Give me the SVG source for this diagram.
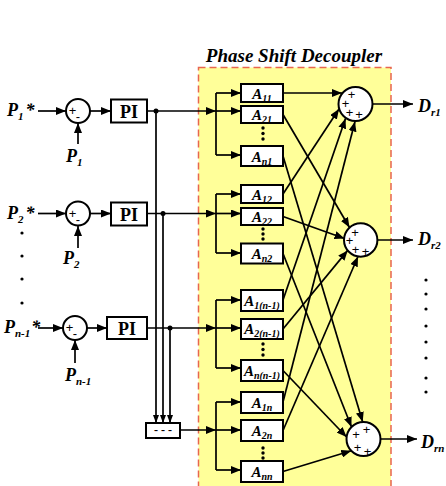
<svg xmlns="http://www.w3.org/2000/svg" width="446" height="486" viewBox="0 0 446 486">
<style>
.t{font-family:"Liberation Serif","Times New Roman",serif;font-weight:bold;font-style:italic;fill:#000}
.r{font-family:"Liberation Serif","Times New Roman",serif;font-weight:bold;fill:#000}
.lab{font-size:18px}
.sub{font-size:11px}
.asub{font-size:10px}
.box{fill:#fff;stroke:#000;stroke-width:2}
.sum{fill:#fff;stroke:#000;stroke-width:2}
.ln{fill:none;stroke:#000;stroke-width:1.7}
.plus{font-family:"Liberation Sans",Arial,sans-serif;font-size:13px;fill:#000;text-anchor:middle}
.pm{font-family:"Liberation Sans",Arial,sans-serif;font-size:13px;fill:#000;text-anchor:middle}
</style>
<defs>
<marker id="arr" markerUnits="userSpaceOnUse" markerWidth="10" markerHeight="8" refX="10" refY="4" orient="auto"><path d="M0,0 L10,4 L0,8 z" fill="#000"/></marker>
<marker id="arrs" markerUnits="userSpaceOnUse" markerWidth="8" markerHeight="6" refX="8" refY="3" orient="auto"><path d="M0,0 L8,3 L0,6 z" fill="#000"/></marker>
</defs>
<rect width="446" height="486" fill="#fff"/>
<g id="decoupler">
<rect x="198.5" y="67.5" width="192.5" height="425" fill="#FFFF99" stroke="#E8664F" stroke-width="1.5" stroke-dasharray="7,4"/>
<text class="t" x="294" y="62" font-size="19" text-anchor="middle">Phase Shift Decoupler</text>
</g>
<g id="connectors">
<path class="ln" d="M38,111 H66" marker-end="url(#arr)"/>
<path class="ln" d="M78,144 V123" marker-end="url(#arr)"/>
<path class="ln" d="M90,111 H111" marker-end="url(#arr)"/>
<path class="ln" d="M147,111 H216" marker-end="url(#arr)"/>
<path class="ln" d="M38,213.5 H66" marker-end="url(#arr)"/>
<path class="ln" d="M78,248 V226" marker-end="url(#arr)"/>
<path class="ln" d="M90,213.5 H111" marker-end="url(#arr)"/>
<path class="ln" d="M147,213.5 H216" marker-end="url(#arr)"/>
<path class="ln" d="M38,328 H63" marker-end="url(#arr)"/>
<path class="ln" d="M75,363 V340" marker-end="url(#arr)"/>
<path class="ln" d="M87,328 H107" marker-end="url(#arr)"/>
<path class="ln" d="M147,328 H216" marker-end="url(#arr)"/>
<path class="ln" d="M156,111 V423" marker-end="url(#arrs)"/>
<path class="ln" d="M163,213.5 V423" marker-end="url(#arrs)"/>
<path class="ln" d="M170,328 V423" marker-end="url(#arrs)"/>
<circle cx="156" cy="111" r="2.5"/>
<circle cx="163" cy="213.5" r="2.5"/>
<circle cx="170" cy="328" r="2.5"/>
<path class="ln" d="M180,430 H216" marker-end="url(#arr)"/>
<path class="ln" d="M216,93 V155 M216,194 V253 M216,300 V368 M216,402 V470"/>
<path class="ln" d="M216,93 H241" marker-end="url(#arr)"/>
<path class="ln" d="M216,111 H241" marker-end="url(#arr)"/>
<path class="ln" d="M216,155 H241" marker-end="url(#arr)"/>
<path class="ln" d="M216,194 H241" marker-end="url(#arr)"/>
<path class="ln" d="M216,213.5 H241" marker-end="url(#arr)"/>
<path class="ln" d="M216,253 H241" marker-end="url(#arr)"/>
<path class="ln" d="M216,300 H241" marker-end="url(#arr)"/>
<path class="ln" d="M216,328 H241" marker-end="url(#arr)"/>
<path class="ln" d="M216,368 H241" marker-end="url(#arr)"/>
<path class="ln" d="M216,402 H241" marker-end="url(#arr)"/>
<path class="ln" d="M216,430 H241" marker-end="url(#arr)"/>
<path class="ln" d="M216,470 H241" marker-end="url(#arr)"/>
<path class="ln" d="M283,93 L342,93" marker-end="url(#arr)"/>
<path class="ln" d="M283,194 L339,109" marker-end="url(#arr)"/>
<path class="ln" d="M283,300 L345.5,118.5" marker-end="url(#arr)"/>
<path class="ln" d="M283,402 L355,121.5" marker-end="url(#arr)"/>
<path class="ln" d="M283,114.5 L349.5,227.5" marker-end="url(#arr)"/>
<path class="ln" d="M283,216.5 L344.5,238.5" marker-end="url(#arr)"/>
<path class="ln" d="M283,329 L347.7,250.4" marker-end="url(#arr)"/>
<path class="ln" d="M283,430.5 L358,256.5" marker-end="url(#arr)"/>
<path class="ln" d="M283,156 L362.7,422" marker-end="url(#arr)"/>
<path class="ln" d="M283,253.5 L351.5,427" marker-end="url(#arr)"/>
<path class="ln" d="M283,370.5 L346.6,437" marker-end="url(#arr)"/>
<path class="ln" d="M283,471.5 L351.3,450.8" marker-end="url(#arr)"/>
<path class="ln" d="M372.5,104 H413" marker-end="url(#arr)"/>
<path class="ln" d="M377.4,240 H413" marker-end="url(#arr)"/>
<path class="ln" d="M380.5,439 H417" marker-end="url(#arr)"/>
</g>
<g id="inputs">
<text class="t lab" x="7" y="116">P<tspan class="sub" dy="4">1</tspan><tspan dy="-4" dx="2">*</tspan></text>
<text class="t lab" x="66" y="162">P<tspan class="sub" dy="4">1</tspan></text>
<text class="t lab" x="7" y="219">P<tspan class="sub" dy="4">2</tspan><tspan dy="-4" dx="2">*</tspan></text>
<text class="t lab" x="63" y="264">P<tspan class="sub" dy="4">2</tspan></text>
<text class="t lab" x="4" y="333">P<tspan class="sub" dy="4">n-1</tspan><tspan dy="-4" dx="1">*</tspan></text>
<text class="t lab" x="65" y="381">P<tspan class="sub" dy="4">n-1</tspan></text>
<circle cx="22" cy="233" r="1.6"/>
<circle cx="22" cy="256" r="1.6"/>
<circle cx="22" cy="279" r="1.6"/>
<circle cx="22" cy="303" r="1.6"/>
</g>
<g id="sum1"><circle class="sum" cx="78" cy="111" r="12"/><text class="pm" x="72.5" y="115">+</text><text class="pm" x="78" y="121">-</text></g>
<g id="sum2"><circle class="sum" cx="78" cy="213.5" r="12"/><text class="pm" x="72.5" y="217.5">+</text><text class="pm" x="78" y="223.5">-</text></g>
<g id="sum3"><circle class="sum" cx="75" cy="328" r="12"/><text class="pm" x="69.5" y="332">+</text><text class="pm" x="75" y="338">-</text></g>
<g id="pi1"><rect class="box" x="111" y="99.5" width="36" height="23"/><text class="r" x="129" y="117.5" font-size="18" text-anchor="middle">PI</text></g>
<g id="pi2"><rect class="box" x="111" y="202.5" width="36" height="23"/><text class="r" x="129" y="220.5" font-size="18" text-anchor="middle">PI</text></g>
<g id="pi3"><rect class="box" x="107" y="317" width="40" height="22"/><text class="r" x="127" y="334.5" font-size="18" text-anchor="middle">PI</text></g>
<g id="mux"><rect class="box" x="146" y="423" width="34" height="15"/><text class="r" x="163" y="434" font-size="12" text-anchor="middle">- - -</text></g>
<g id="A11"><rect class="box" x="241" y="84" width="42" height="18"/><text class="t" x="262" y="99" font-size="15" text-anchor="middle">A<tspan class="asub" dy="3">11</tspan></text></g>
<g id="A21"><rect class="box" x="241" y="106" width="42" height="17"/><text class="t" x="262" y="120" font-size="15" text-anchor="middle">A<tspan class="asub" dy="3">21</tspan></text></g>
<g id="An1"><rect class="box" x="241" y="146" width="42" height="20"/><text class="t" x="262" y="161.5" font-size="15" text-anchor="middle">A<tspan class="asub" dy="3">n1</tspan></text></g>
<g id="A12"><rect class="box" x="241" y="185" width="42" height="18"/><text class="t" x="262" y="200" font-size="15" text-anchor="middle">A<tspan class="asub" dy="3">12</tspan></text></g>
<g id="A22"><rect class="box" x="241" y="208" width="42" height="17"/><text class="t" x="262" y="222" font-size="15" text-anchor="middle">A<tspan class="asub" dy="3">22</tspan></text></g>
<g id="An2"><rect class="box" x="241" y="243.5" width="42" height="20"/><text class="t" x="262" y="259" font-size="15" text-anchor="middle">A<tspan class="asub" dy="3">n2</tspan></text></g>
<g id="A1n-1"><rect class="box" x="241" y="290" width="42" height="21"/><text class="t" x="262" y="305.5" font-size="15" text-anchor="middle">A<tspan class="asub" dy="3">1(n-1)</tspan></text></g>
<g id="A2n-1"><rect class="box" x="241" y="319" width="42" height="20"/><text class="t" x="262" y="334" font-size="15" text-anchor="middle">A<tspan class="asub" dy="3">2(n-1)</tspan></text></g>
<g id="Ann-1"><rect class="box" x="241" y="360" width="42" height="21"/><text class="t" x="262" y="375.5" font-size="15" text-anchor="middle">A<tspan class="asub" dy="3">n(n-1)</tspan></text></g>
<g id="A1n"><rect class="box" x="241" y="392" width="42" height="21"/><text class="t" x="262" y="407.5" font-size="15" text-anchor="middle">A<tspan class="asub" dy="3">1n</tspan></text></g>
<g id="A2n"><rect class="box" x="241" y="420" width="42" height="21"/><text class="t" x="262" y="435.5" font-size="15" text-anchor="middle">A<tspan class="asub" dy="3">2n</tspan></text></g>
<g id="Ann"><rect class="box" x="241" y="461" width="42" height="21"/><text class="t" x="262" y="476.5" font-size="15" text-anchor="middle">A<tspan class="asub" dy="3">nn</tspan></text></g>
<g id="vdots">
<circle cx="263" cy="128" r="1.7"/><circle cx="263" cy="133.5" r="1.7"/><circle cx="263" cy="139" r="1.7"/>
<circle cx="263" cy="229" r="1.7"/><circle cx="263" cy="234" r="1.7"/><circle cx="263" cy="239" r="1.7"/>
<circle cx="263" cy="344" r="1.7"/><circle cx="263" cy="349.5" r="1.7"/><circle cx="263" cy="355" r="1.7"/>
<circle cx="263" cy="448" r="1.7"/><circle cx="263" cy="453" r="1.7"/><circle cx="263" cy="458" r="1.7"/>
</g>
<g id="S1"><circle class="sum" cx="355.5" cy="104" r="17"/><text class="plus" x="351.5" y="98.5">+</text><text class="plus" x="345.5" y="107.5">+</text><text class="plus" x="349.5" y="117">+</text><text class="plus" x="359" y="118.5">+</text></g>
<g id="S2"><circle class="sum" cx="360.7" cy="240" r="16.7"/><text class="plus" x="355" y="236.5">+</text><text class="plus" x="349.5" y="244.5">+</text><text class="plus" x="355.5" y="253.5">+</text><text class="plus" x="365.5" y="255.5">+</text></g>
<g id="Sn"><circle class="sum" cx="363.5" cy="439" r="17"/><text class="plus" x="356" y="438.5">+</text><text class="plus" x="366.5" y="434">+</text><text class="plus" x="357.5" y="452">+</text><text class="plus" x="367.5" y="455.5">+</text></g>
<g id="outputs">
<text class="t lab" x="418" y="112">D<tspan class="sub" dy="4">r1</tspan></text>
<text class="t lab" x="418" y="245">D<tspan class="sub" dy="4">r2</tspan></text>
<text class="t lab" x="421" y="448">D<tspan class="sub" dy="4">rn</tspan></text>
<circle cx="426" cy="280" r="1.6"/><circle cx="426" cy="294" r="1.6"/><circle cx="426" cy="309" r="1.6"/><circle cx="426" cy="326" r="1.6"/>
<circle cx="426" cy="342" r="1.6"/><circle cx="426" cy="358" r="1.6"/><circle cx="426" cy="378" r="1.6"/><circle cx="426" cy="392" r="1.6"/>
</g>
</svg>
